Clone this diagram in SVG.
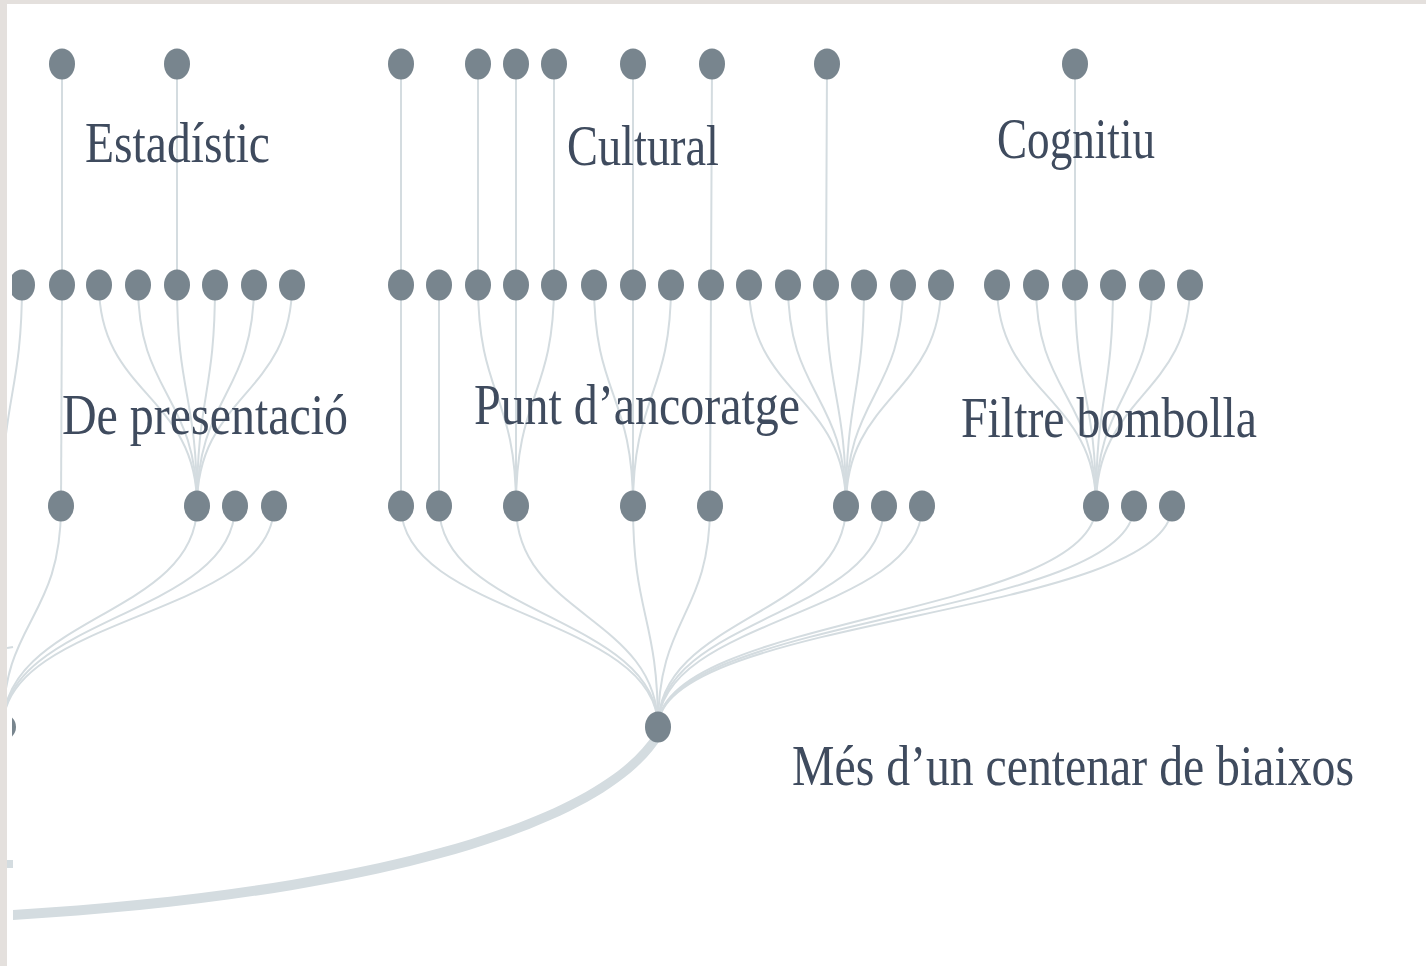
<svg xmlns="http://www.w3.org/2000/svg" width="1426" height="966" viewBox="0 0 1426 966">
<style>
.n{fill:#78858e}
.e{fill:none;stroke:#d4dce0;stroke-width:2}
.lbl{font-family:"Liberation Serif","DejaVu Serif",serif;font-size:48px;fill:#3f4b5e}
</style>
<defs>
<clipPath id="clip"><rect x="12" y="4" width="1414" height="962"/></clipPath>
<clipPath id="clipL"><rect x="7" y="4" width="1419" height="962"/></clipPath>
</defs>
<rect x="0" y="0" width="1426" height="966" fill="#ffffff"/>
<rect x="0" y="0" width="1426" height="4" fill="#e4e0dd"/>
<rect x="0" y="0" width="7" height="966" fill="#e4e0dd"/>

<g id="connectors">
<g clip-path="url(#clipL)">
<!-- trunk -->
<path d="M654,733 C596,826 348,890 13,910 L13,920 C352,900 604,834 662,737 Z" fill="#d4dce0"/>
<rect x="7" y="860" width="6" height="8" fill="#d4dce0"/>
<path class="e" d="M7,648 L13,647"/>
<!-- top to middle -->
<path class="e" d="M62,64 V285 M177,64 V285 M401,64 V285 M478,64 V285 M516,64 V285 M554,64 V285 M633,64 V285 M712,64 L711,285 M827,64 L826,285 M1075,64 V285"/>
<!-- middle to bottom: left -->
<path class="e" d="M22,285 C22,390 2,400 2,506"/>
<path class="e" d="M62,285 L61,506"/>
<path class="e" d="M99,285 C99,395 197,395 197,506"/>
<path class="e" d="M138,285 C138,395 197,395 197,506"/>
<path class="e" d="M177,285 C177,395 197,395 197,506"/>
<path class="e" d="M215,285 C215,395 197,395 197,506"/>
<path class="e" d="M254,285 C254,395 197,395 197,506"/>
<path class="e" d="M292,285 C292,395 197,395 197,506"/>
<!-- middle to bottom: center -->
<path class="e" d="M401,285 V506 M439,285 V506 M711,285 L710,506"/>
<path class="e" d="M478,285 C478,395 516,395 516,506"/>
<path class="e" d="M516,285 V506"/>
<path class="e" d="M554,285 C554,395 516,395 516,506"/>
<path class="e" d="M594,285 C594,395 633,395 633,506"/>
<path class="e" d="M633,285 V506"/>
<path class="e" d="M671,285 C671,395 633,395 633,506"/>
<path class="e" d="M749,285 C749,395 846,395 846,506"/>
<path class="e" d="M788,285 C788,395 846,395 846,506"/>
<path class="e" d="M826,285 C826,395 846,395 846,506"/>
<path class="e" d="M864,285 C864,395 846,395 846,506"/>
<path class="e" d="M903,285 C903,395 846,395 846,506"/>
<path class="e" d="M941,285 C941,395 846,395 846,506"/>
<!-- middle to bottom: right -->
<path class="e" d="M997,285 C997,395 1096,395 1096,506"/>
<path class="e" d="M1036,285 C1036,395 1096,395 1096,506"/>
<path class="e" d="M1075,285 C1075,395 1096,395 1096,506"/>
<path class="e" d="M1113,285 C1113,395 1096,395 1096,506"/>
<path class="e" d="M1152,285 C1152,395 1096,395 1096,506"/>
<path class="e" d="M1190,285 C1190,395 1096,395 1096,506"/>
<!-- bottom to left clipped node -->
<path class="e" d="M61,506 C61,620 3,620 3,727"/>
<path class="e" d="M197,506 C197,616 3,616 3,727"/>
<path class="e" d="M235,506 C235,616 3,616 3,727"/>
<path class="e" d="M274,506 C274,616 3,616 3,727"/>
<!-- bottom to root -->
<path class="e" d="M401,506 C401,616 658,616 658,727"/>
<path class="e" d="M439,506 C439,616 658,616 658,727"/>
<path class="e" d="M516,506 C516,616 658,616 658,727"/>
<path class="e" d="M633,506 C633,616 658,616 658,727"/>
<path class="e" d="M710,506 C710,616 658,616 658,727"/>
<path class="e" d="M846,506 C846,616 658,616 658,727"/>
<path class="e" d="M884,506 C884,616 658,616 658,727"/>
<path class="e" d="M922,506 C922,616 658,616 658,727"/>
<path class="e" d="M1096,506 C1096,616 658,616 658,727"/>
<path class="e" d="M1134,506 C1134,616 658,616 658,727"/>
<path class="e" d="M1172,506 C1172,616 658,616 658,727"/>
</g>
</g>

<g id="nodes">
<g id="t1"><ellipse class="n" cx="62" cy="64" rx="13" ry="15.5"/></g>
<g id="t2"><ellipse class="n" cx="177" cy="64" rx="13" ry="15.5"/></g>
<g id="t3"><ellipse class="n" cx="401" cy="64" rx="13" ry="15.5"/></g>
<g id="t4"><ellipse class="n" cx="478" cy="64" rx="13" ry="15.5"/></g>
<g id="t5"><ellipse class="n" cx="516" cy="64" rx="13" ry="15.5"/></g>
<g id="t6"><ellipse class="n" cx="554" cy="64" rx="13" ry="15.5"/></g>
<g id="t7"><ellipse class="n" cx="633" cy="64" rx="13" ry="15.5"/></g>
<g id="t8"><ellipse class="n" cx="712" cy="64" rx="13" ry="15.5"/></g>
<g id="t9"><ellipse class="n" cx="827" cy="64" rx="13" ry="15.5"/></g>
<g id="t10"><ellipse class="n" cx="1075" cy="64" rx="13" ry="15.5"/></g>

<g id="m0" clip-path="url(#clip)"><ellipse class="n" cx="22" cy="285" rx="13" ry="15.5"/></g>
<g id="m1"><ellipse class="n" cx="62" cy="285" rx="13" ry="15.5"/></g>
<g id="m2"><ellipse class="n" cx="99" cy="285" rx="13" ry="15.5"/></g>
<g id="m3"><ellipse class="n" cx="138" cy="285" rx="13" ry="15.5"/></g>
<g id="m4"><ellipse class="n" cx="177" cy="285" rx="13" ry="15.5"/></g>
<g id="m5"><ellipse class="n" cx="215" cy="285" rx="13" ry="15.5"/></g>
<g id="m6"><ellipse class="n" cx="254" cy="285" rx="13" ry="15.5"/></g>
<g id="m7"><ellipse class="n" cx="292" cy="285" rx="13" ry="15.5"/></g>
<g id="m8"><ellipse class="n" cx="401" cy="285" rx="13" ry="15.5"/></g>
<g id="m9"><ellipse class="n" cx="439" cy="285" rx="13" ry="15.5"/></g>
<g id="m10"><ellipse class="n" cx="478" cy="285" rx="13" ry="15.5"/></g>
<g id="m11"><ellipse class="n" cx="516" cy="285" rx="13" ry="15.5"/></g>
<g id="m12"><ellipse class="n" cx="554" cy="285" rx="13" ry="15.5"/></g>
<g id="m13"><ellipse class="n" cx="594" cy="285" rx="13" ry="15.5"/></g>
<g id="m14"><ellipse class="n" cx="633" cy="285" rx="13" ry="15.5"/></g>
<g id="m15"><ellipse class="n" cx="671" cy="285" rx="13" ry="15.5"/></g>
<g id="m16"><ellipse class="n" cx="711" cy="285" rx="13" ry="15.5"/></g>
<g id="m17"><ellipse class="n" cx="749" cy="285" rx="13" ry="15.5"/></g>
<g id="m18"><ellipse class="n" cx="788" cy="285" rx="13" ry="15.5"/></g>
<g id="m19"><ellipse class="n" cx="826" cy="285" rx="13" ry="15.5"/></g>
<g id="m20"><ellipse class="n" cx="864" cy="285" rx="13" ry="15.5"/></g>
<g id="m21"><ellipse class="n" cx="903" cy="285" rx="13" ry="15.5"/></g>
<g id="m22"><ellipse class="n" cx="941" cy="285" rx="13" ry="15.5"/></g>
<g id="m23"><ellipse class="n" cx="997" cy="285" rx="13" ry="15.5"/></g>
<g id="m24"><ellipse class="n" cx="1036" cy="285" rx="13" ry="15.5"/></g>
<g id="m25"><ellipse class="n" cx="1075" cy="285" rx="13" ry="15.5"/></g>
<g id="m26"><ellipse class="n" cx="1113" cy="285" rx="13" ry="15.5"/></g>
<g id="m27"><ellipse class="n" cx="1152" cy="285" rx="13" ry="15.5"/></g>
<g id="m28"><ellipse class="n" cx="1190" cy="285" rx="13" ry="15.5"/></g>

<g id="b1"><ellipse class="n" cx="61" cy="506" rx="13" ry="15.5"/></g>
<g id="b2"><ellipse class="n" cx="197" cy="506" rx="13" ry="15.5"/></g>
<g id="b3"><ellipse class="n" cx="235" cy="506" rx="13" ry="15.5"/></g>
<g id="b4"><ellipse class="n" cx="274" cy="506" rx="13" ry="15.5"/></g>
<g id="b5"><ellipse class="n" cx="401" cy="506" rx="13" ry="15.5"/></g>
<g id="b6"><ellipse class="n" cx="439" cy="506" rx="13" ry="15.5"/></g>
<g id="b7"><ellipse class="n" cx="516" cy="506" rx="13" ry="15.5"/></g>
<g id="b8"><ellipse class="n" cx="633" cy="506" rx="13" ry="15.5"/></g>
<g id="b9"><ellipse class="n" cx="710" cy="506" rx="13" ry="15.5"/></g>
<g id="b10"><ellipse class="n" cx="846" cy="506" rx="13" ry="15.5"/></g>
<g id="b11"><ellipse class="n" cx="884" cy="506" rx="13" ry="15.5"/></g>
<g id="b12"><ellipse class="n" cx="922" cy="506" rx="13" ry="15.5"/></g>
<g id="b13"><ellipse class="n" cx="1096" cy="506" rx="13" ry="15.5"/></g>
<g id="b14"><ellipse class="n" cx="1134" cy="506" rx="13" ry="15.5"/></g>
<g id="b15"><ellipse class="n" cx="1172" cy="506" rx="13" ry="15.5"/></g>

<g id="root"><ellipse class="n" cx="658" cy="727" rx="13" ry="15.5"/></g>
<g id="leftroot" clip-path="url(#clip)"><ellipse class="n" cx="3" cy="727" rx="13" ry="13"/></g>
</g>

<g id="labels">
<text class="lbl" transform="translate(85,162) scale(1,1.17)" textLength="185" lengthAdjust="spacingAndGlyphs">Estadístic</text>
<text class="lbl" transform="translate(567,165) scale(1,1.17)" textLength="152" lengthAdjust="spacingAndGlyphs">Cultural</text>
<text class="lbl" transform="translate(997,158) scale(1,1.17)" textLength="158" lengthAdjust="spacingAndGlyphs">Cognitiu</text>
<text class="lbl" transform="translate(62,434) scale(1,1.17)" textLength="286" lengthAdjust="spacingAndGlyphs">De presentació</text>
<text class="lbl" transform="translate(474,424) scale(1,1.17)" textLength="326" lengthAdjust="spacingAndGlyphs">Punt d’ancoratge</text>
<text class="lbl" transform="translate(961,437) scale(1,1.17)" textLength="296" lengthAdjust="spacingAndGlyphs">Filtre bombolla</text>
<text class="lbl" transform="translate(792,785) scale(1,1.17)" textLength="562" lengthAdjust="spacingAndGlyphs">Més d’un centenar de biaixos</text>
</g>
</svg>
